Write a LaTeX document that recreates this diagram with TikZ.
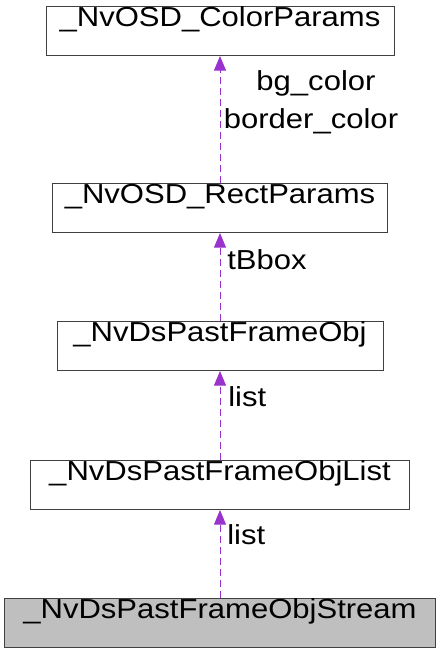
\documentclass[tikz,border=0pt]{standalone}
\usepackage{fontspec}
\setmainfont[FakeStretch=1.13]{Liberation Sans}
\usetikzlibrary{arrows.meta}
\definecolor{edgecol}{HTML}{9A32CD}
\definecolor{boxline}{HTML}{404040}
\definecolor{boxfill}{HTML}{BFBFBF}
\tikzset{
    cls/.style={draw=boxline, line width=0.75pt, inner xsep=0pt, inner ysep=0pt,
        text height=15pt, text depth=21.75pt, font=\fontsize{20.6pt}{24pt}\selectfont},
    usage/.style={draw=edgecol, line width=0.75pt, dash pattern=on 5.25pt off 3pt,
        -{Triangle[length=11pt, width=9pt, fill=edgecol]}},
    lbl/.style={anchor=base west, inner sep=0pt, font=\fontsize{20.6pt}{24pt}\selectfont}
}
\begin{document}
\begin{tikzpicture}[x=0.75pt, y=-0.75pt]
        \useasboundingbox (0,0) rectangle (440,653);

        % Classes
        \node[cls, minimum width=261pt] (colorparams) at (220,6) [anchor=north] {\_NvOSD\_ColorParams};
        \node[cls, minimum width=251.25pt] (rectparams) at (220,183) [anchor=north] {\_NvOSD\_RectParams};
        \node[cls, minimum width=244.5pt] (pastobj) at (220,321) [anchor=north] {\_NvDsPastFrameObj};
        \node[cls, minimum width=284.25pt] (pastlist) at (220,460) [anchor=north] {\_NvDsPastFrameObjList};
        \node[cls, fill=boxfill, minimum width=323.25pt] (paststream) at (220,598) [anchor=north] {\_NvDsPastFrameObjStream};

        % Usage edges
        \draw[usage] (rectparams.north) -- (colorparams.south);
        \node[lbl, anchor=base] (bgcolor) at (316,90) {bg\_color};
        \node[lbl, anchor=base] (bordercolor) at (311,128) {border\_color};

        \draw[usage] (pastobj.north) -- (rectparams.south);
        \node[lbl] (tbbox) at (227,269) {tBbox};

        \draw[usage] (pastlist.north) -- (pastobj.south);
        \node[lbl] (listA) at (228,406) {list};

        \draw[usage] (paststream.north) -- (pastlist.south);
        \node[lbl] (listB) at (227,544) {list};

    \end{tikzpicture}
\end{document}
